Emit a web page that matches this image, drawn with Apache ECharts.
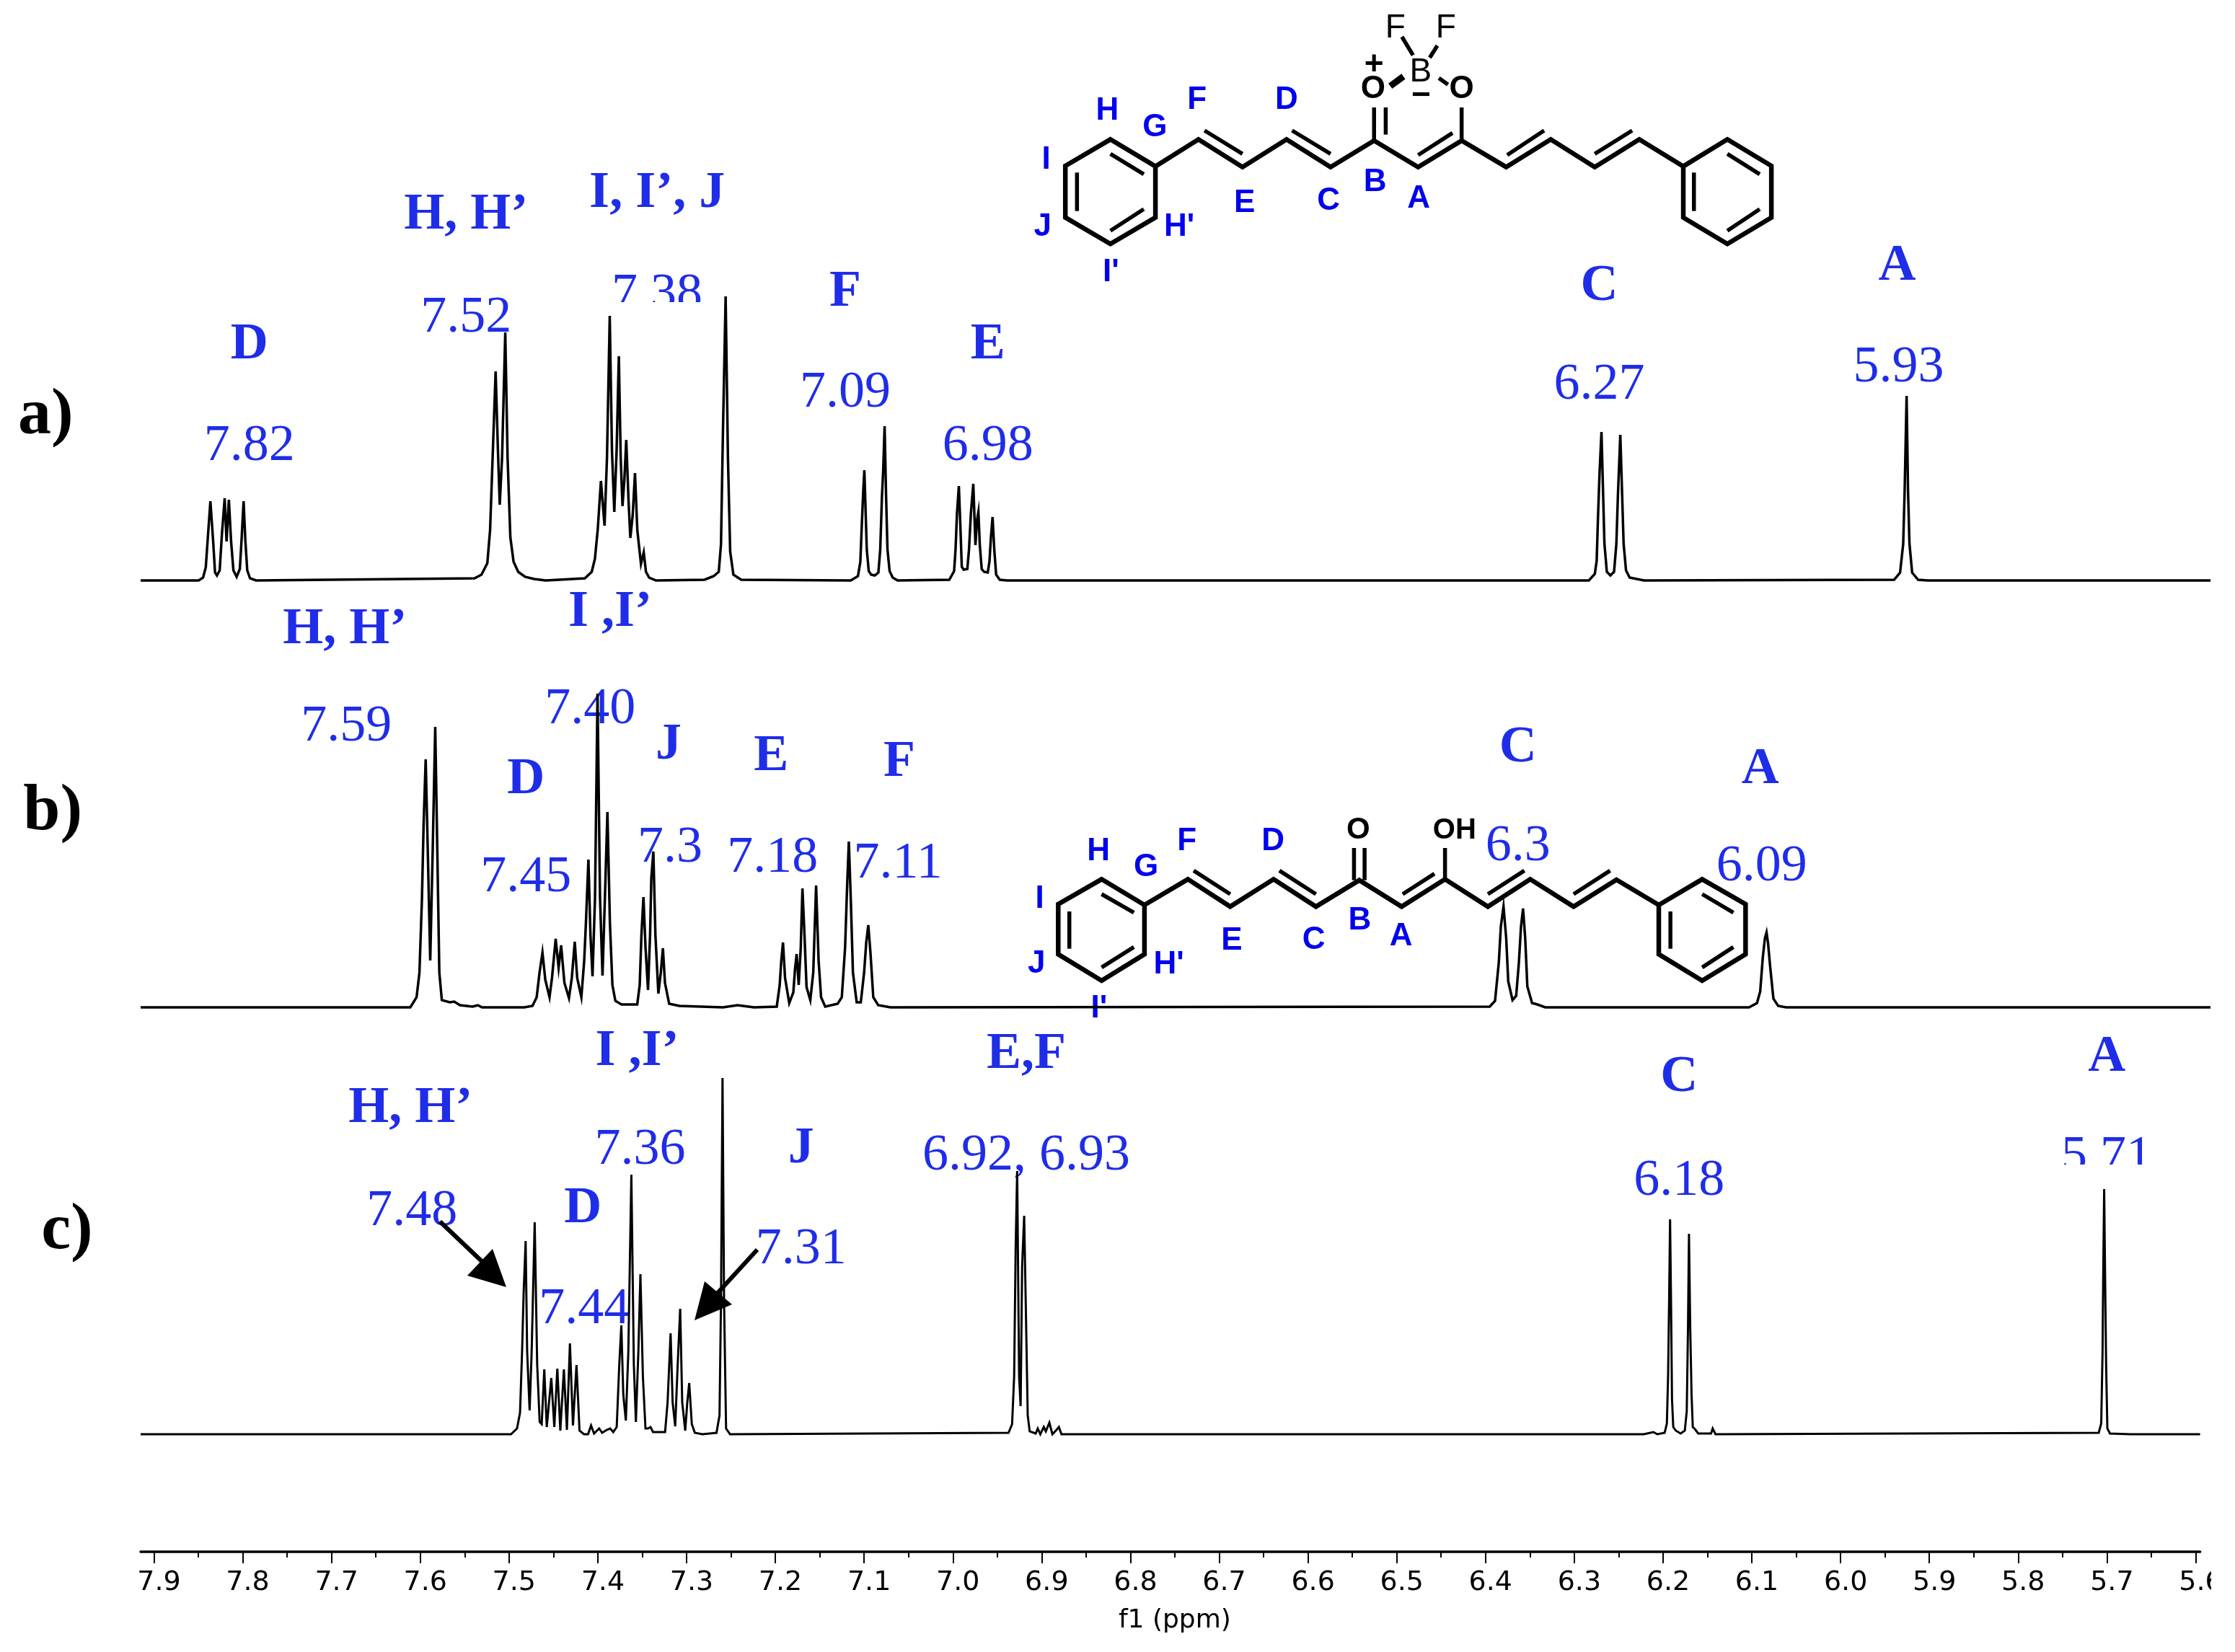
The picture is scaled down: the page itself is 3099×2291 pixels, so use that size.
<!DOCTYPE html>
<html><head><meta charset="utf-8">
<style>html,body{margin:0;padding:0;background:#fff}#c{width:3099px;height:2291px}</style>
<script src="https://cdn.jsdelivr.net/npm/echarts@6/dist/echarts.min.js"></script>
</head><body><div id="c"></div>
<script>
// ---- data: [ppm, intensity above baseline] ----
const spectrumA = [[7.915,0],[7.85,0],[7.845,4],[7.842,18],[7.84,54],[7.8368,110],[7.8337,54],[7.8316,11],[7.8295,7],[7.8264,14],[7.8239,64],[7.8208,114],[7.8187,54],[7.8161,112],[7.8136,54],[7.811,14],[7.8074,5],[7.8038,16],[7.8017,60],[7.7996,110],[7.7976,55],[7.7955,14],[7.7924,3],[7.7857,0],
[7.5408,3],[7.533,8],[7.5264,24],[7.5233,70],[7.5202,180],[7.5171,290],[7.5145,180],[7.5125,105],[7.5099,170],[7.5063,344],[7.5037,170],[7.5006,60],[7.497,26],[7.4918,12],[7.4841,5],[7.4738,2],[7.4609,0],
[7.4171,3],[7.4094,12],[7.4058,30],[7.4027,70],[7.3991,138],[7.395,76],[7.3923,170],[7.3892,367],[7.3867,180],[7.3841,95],[7.3815,180],[7.379,311],[7.3769,170],[7.3749,103],[7.3728,140],[7.3707,195],[7.3681,110],[7.3661,59],[7.3635,90],[7.3609,149],[7.3583,70],[7.3542,23],[7.3511,39],[7.3486,12],[7.345,4],[7.3372,0],
[7.283,1],[7.2727,6],[7.267,12],[7.2645,50],[7.2624,200],[7.2593,394],[7.2567,170],[7.2542,40],[7.2506,8],[7.2418,1],
[7.1191,0],[7.111,6],[7.1083,26],[7.1067,76],[7.105,126],[7.1038,153],[7.1024,96],[7.1011,43],[7.0989,13],[7.0962,8],[7.0922,7],[7.0881,11],[7.086,43],[7.0841,116],[7.0827,153],[7.0811,214],[7.0795,119],[7.0779,43],[7.0755,13],[7.072,4],[7.0666,0],
[7.0086,1],[7.0032,13],[7.0016,43],[7.0,93],[6.9979,131],[6.9962,76],[6.9946,19],[6.9925,15],[6.9884,16],[6.9865,43],[6.9844,93],[6.9817,134],[6.9793,49],[6.9776,83],[6.976,95],[6.9744,49],[6.9723,16],[6.9696,12],[6.9655,11],[6.9636,26],[6.962,59],[6.9601,88],[6.9582,43],[6.9561,8],[6.952,1],[6.944,0],
[6.2918,0],[6.2851,9],[6.283,27],[6.2816,84],[6.2797,151],[6.2776,206],[6.2757,117],[6.2743,51],[6.2716,12],[6.2676,7],[6.2635,12],[6.2609,51],[6.2592,117],[6.2565,202],[6.2544,117],[6.2528,51],[6.2501,14],[6.246,4],[6.2299,0],
[5.9496,1],[5.9429,11],[5.9394,51],[5.9378,124],[5.9356,256],[5.934,124],[5.9324,51],[5.9294,11],[5.9227,1],[5.9119,0],[5.595,0]];

const spectrumB = [[7.915,0],[7.6544,0],[7.6127,0],[7.6057,14],[7.6025,48],[7.5997,150],[7.5978,255],[7.5955,344],[7.5932,220],[7.5904,65],[7.5876,220],[7.5848,389],[7.5825,220],[7.5802,48],[7.5774,10],[7.5686,7],[7.5635,8],[7.557,3],[7.543,1],[7.537,3],[7.5324,0],
[7.485,0],[7.4758,2],[7.4711,14],[7.4679,48],[7.4646,76],[7.4614,38],[7.4567,14],[7.4539,41],[7.4498,95],[7.4465,55],[7.4437,86],[7.44,34],[7.4349,13],[7.4317,41],[7.4284,91],[7.4257,41],[7.421,14],[7.4178,65],[7.4159,117],[7.4131,205],[7.4108,100],[7.4085,43],[7.4057,152],[7.4029,435],[7.4001,152],[7.3973,44],[7.3946,152],[7.3918,271],[7.389,117],[7.3862,31],[7.3829,9],[7.376,4],[7.3584,4],[7.3556,31],[7.3537,100],[7.3514,153],[7.3491,83],[7.3463,24],[7.344,100],[7.3426,179],[7.3403,216],[7.338,100],[7.3347,19],[7.332,48],[7.3296,82],[7.3273,34],[7.3226,5],[7.311,2],[7.2623,0],[7.246,3],[7.2275,0],
[7.202,1],[7.1987,31],[7.1969,65],[7.195,90],[7.1927,41],[7.188,6],[7.1834,21],[7.1816,52],[7.1797,74],[7.1774,31],[7.1751,83],[7.1732,165],[7.1709,100],[7.1686,28],[7.1644,10],[7.1611,48],[7.1579,169],[7.1551,65],[7.1523,14],[7.1477,1],[7.1337,5],[7.1291,14],[7.1254,83],[7.1231,169],[7.1212,230],[7.1189,145],[7.1166,48],[7.1124,7],[7.1078,7],[7.1041,48],[7.1017,90],[7.0994,114],[7.097,76],[7.0938,14],[7.0883,3],[7.0744,0],
[6.4028,1],[6.3969,9],[6.3927,62],[6.3904,112],[6.3874,140],[6.3844,96],[6.3821,36],[6.3773,10],[6.3732,16],[6.3702,62],[6.3678,112],[6.3655,137],[6.3631,96],[6.3607,29],[6.3554,6],[6.3494,4],[6.3406,0],
[6.1122,0],[6.1033,6],[6.0997,22],[6.0968,69],[6.0944,96],[6.0926,104],[6.0909,89],[6.0885,56],[6.0849,12],[6.0796,2],[6.0707,0],[5.595,0]];

const spectrumC = [[7.915,0],[7.4978,0],[7.491,8],[7.4876,30],[7.4853,115],[7.4836,194],[7.4813,268],[7.4796,115],[7.4768,33],[7.4745,115],[7.4711,294],[7.4683,97],[7.4655,17],[7.4632,14],[7.4603,90],[7.4575,10],[7.4524,78],[7.449,10],[7.4456,91],[7.4422,5],[7.4382,90],[7.4348,6],[7.4314,126],[7.428,12],[7.424,96],[7.4206,5],[7.4155,0],[7.411,0],[7.4076,12],[7.4042,1],[7.3985,8],[7.3951,2],[7.39,6],[7.386,8],[7.3826,3],[7.3787,10],[7.3758,97],[7.3735,151],[7.3713,55],[7.3684,19],[7.3656,115],[7.3622,360],[7.3594,97],[7.3571,17],[7.3543,115],[7.352,222],[7.3492,80],[7.3463,8],[7.3435,8],[7.3406,10],[7.3378,3],[7.3242,3],[7.3214,44],[7.318,140],[7.3157,44],[7.3128,11],[7.31,97],[7.3072,174],[7.3049,44],[7.3015,5],[7.2992,44],[7.297,71],[7.2941,14],[7.2907,2],[7.2822,0],[7.2663,2],[7.2629,26],[7.2612,187],[7.2595,494],[7.2578,187],[7.2555,8],[7.251,0],
[6.9373,2],[6.9333,14],[6.931,80],[6.9293,258],[6.9276,365],[6.9254,80],[6.9237,39],[6.922,233],[6.9197,303],[6.918,187],[6.9157,26],[6.9135,4],[6.9067,1],[6.9044,8],[6.9015,0],[6.8976,10],[6.8953,4],[6.8913,16],[6.8879,0],[6.884,5],[6.8806,10],[6.8777,0],
[6.2217,0],[6.2109,3],[6.2065,0],[6.1982,2],[6.1957,15],[6.1943,82],[6.1932,182],[6.1921,298],[6.191,182],[6.1899,48],[6.1885,10],[6.1856,5],[6.1802,1],[6.1755,5],[6.1733,32],[6.1719,148],[6.1708,278],[6.1694,148],[6.1679,55],[6.1665,10],[6.164,7],[6.1604,1],[6.1459,1],[6.1441,8],[6.1427,9],[6.1409,0],
[5.7092,2],[5.7064,15],[5.7049,115],[5.7042,215],[5.7031,340],[5.702,215],[5.7009,98],[5.6995,8],[5.6966,1],[5.6732,0],[5.595,0]];

const majorTicks = [7.9,7.8,7.7,7.6,7.5,7.4,7.3,7.2,7.1,7.0,6.9,6.8,6.7,6.6,6.5,6.4,6.3,6.2,6.1,6.0,5.9,5.8,5.7,5.6];
const minorTicks = [7.85,7.75,7.65,7.55,7.45,7.35,7.25,7.15,7.05,6.95,6.85,6.75,6.65,6.55,6.45,6.35,6.25,6.15,6.05,5.95,5.85,5.75,5.65];
const panelNames = ['a)','b)','c)'];
const assignLetters = ['D','H, H’','I, I’, J','F','E','C','A','H, H’','I ,I’','D','J','E','F','C','A','H, H’','I ,I’','D','J','E,F','C','A'];
const shiftLabels = ['7.82','7.52','7.38','7.09','6.98','6.27','5.93','7.59','7.40','7.45','7.3','7.18','7.11','6.3','6.09','7.48','7.36','7.44','7.31','6.92, 6.93','6.18','5.71'];
// ---- layout (overview-pixel anchors) ----
const K = 3099/1568;
const letterPos = [[175,242],[327,151],[461,136],[593,205],[693,242],[1122,201],[1331,187],[242,442],[428,430],[369,547],[469,523],[541,531],[631,535],[1065,525],[1235,540],[288,778],[447,738],[409,848],[562,806],[720,740],[1178,756],[1478,742]];
const shiftPos = [[175,313],[327,223],[461,207],[593,276],[693,313],[1122,270],[1332,258],[243,510],[414,498],[369,616],[470,595],[542,602],[630,606],[1065,594],[1236,608],[289,850],[449,807],[410,919],[562,877],[720,811],[1178,829],[1478,812]];
const panelPos = [[32,292],[37,570],[47,864]];

const G = [];
const BLUE='#1f2de8';
function txt(t,x,y,font,fill,z){G.push({type:'text',z:z||1,silent:true,style:{text:t,x:x,y:y,font:font,fill:fill,textAlign:'center',textVerticalAlign:'middle'}});}
letterPos.forEach((p,i)=>txt(assignLetters[i],p[0]*K,p[1]*K,'bold 72px "Liberation Serif"',BLUE));
shiftPos.forEach((p,i)=>txt(shiftLabels[i],p[0]*K,p[1]*K,'72px "Liberation Serif"',BLUE));
panelPos.forEach((p,i)=>txt(panelNames[i],p[0]*K,p[1]*K,'bold 92px "Liberation Serif"','#000'));
// clipped annotation bottoms in the source
function patch(x,y,w,h,z){G.push({type:'rect',z:z||1,silent:true,shape:{x,y,width:w,height:h},style:{fill:'#fff'}});}
patch(840,419,150,16);
patch(2850,1615,150,28);
// arrows
function poly(pts,z){G.push({type:'polygon',z:z||3,silent:true,shape:{points:pts},style:{fill:'#000'}});}
function seg(a,b,w,z,c){G.push({type:'line',z:z||1,silent:true,shape:{x1:a[0],y1:a[1],x2:b[0],y2:b[1]},style:{stroke:c||'#000',lineWidth:w,lineCap:'butt'}});}
seg([610,1694],[690,1770],6,3); poly([[702,1785],[683,1732],[648,1769]]);
seg([1050,1733],[975,1815],6,3); poly([[963,1831],[977,1777],[1015,1809]]);
// structures
const BOND=6.5;
function structure(ox,oy,fx,fy,rings,chain,inner,texts,blue){
  const P=p=>[ox+p[0]/fx,oy+p[1]/fy];
  rings.forEach(r=>G.push({type:'polygon',z:1,silent:true,shape:{points:r.map(P)},style:{fill:'none',stroke:'#000',lineWidth:BOND,lineJoin:'miter'}}));
  G.push({type:'polyline',z:1,silent:true,shape:{points:chain.map(P)},style:{fill:'none',stroke:'#000',lineWidth:BOND,lineJoin:'miter'}});
  inner.forEach(l=>{seg(P(l[0]),P(l[1]),l[2]||BOND-1);});
  texts.forEach(t=>{const q=P([t[1],t[2]]);txt(t[0],q[0],q[1],t[3]||'46px "Liberation Sans"','#000');});
  blue.forEach(t=>{const q=P([t[1],t[2]]);txt(t[0],q[0],q[1],'bold 44px "Liberation Sans"','#0000ee');});
}
structure(1400,0,1.425,3,
 [[[199,580],[288,692],[288,905],[199,1015],[110,905],[110,690]],[[1418,580],[1505,690],[1505,905],[1418,1015],[1331,905],[1331,692]]],
 [[288,692],[373,580],[460,695],[547,580],[634,695],[720,585],[807,695],[893,585],[981,695],[1069,580],[1156,695],[1244,580],[1331,692]],
 [[[199,640],[265,725]],[[133,718],[133,878]],[[199,960],[265,870]],[[385,543],[460,640]],[[558,543],[634,640]],[[807,645],[875,553]],[[983,645],[1056,543]],[[1156,640],[1230,543]],[[720,585],[720,447]],[[743,560],[743,447]],[[893,585],[893,447]],[[1352,718],[1352,878]],[[1418,640],[1482,725]],[[1418,960],[1482,870]],[[775,153],[797,230]],[[845,190],[830,240]],[[752,358],[778,318],9],[[848,325],[866,352]]],
 [['F',762,118],['F',862,118],['B',812,300],['O',718,373,'bold 44px "Liberation Sans"'],['O',893,373,'bold 44px "Liberation Sans"'],['+',720,272,'bold 46px "Liberation Sans"'],['−',813,400,'bold 46px "Liberation Sans"']],
 [['H',193,462],['G',287,530],['F',370,418],['D',547,418],['I',72,665],['E',464,845],['C',630,838],['B',722,758],['A',808,827],['J',65,945],['H\'',335,945],['I\'',200,1135]]);
structure(1380,1100,1.363,3,
 [[[201,358],[282,465],[282,670],[201,780],[119,670],[119,462]],[[1336,358],[1418,462],[1418,670],[1336,780],[1254,670],[1254,465]]],
 [[282,465],[364,358],[444,472],[526,358],[606,472],[688,362],[768,472],[850,358],[931,472],[1011,358],[1093,472],[1174,360],[1254,465]],
 [[[201,420],[262,497]],[[140,492],[140,647]],[[201,725],[262,640]],[[375,322],[444,420]],[[537,322],[606,420]],[[770,420],[830,335]],[[931,420],[1000,322]],[[1093,420],[1162,322]],[[678,362],[678,228]],[[698,362],[698,228]],[[850,358],[850,228]],[[1276,492],[1276,647]],[[1336,420],[1395,497]],[[1336,725],[1395,640]]],
 [['O',686,155,'bold 42px "Liberation Sans"'],['OH',868,155,'bold 40px "Liberation Sans"']],
 [['H',195,243],['G',285,308],['F',362,200],['D',525,200],['I',84,440],['E',447,615],['C',602,612],['B',689,532],['A',767,597],['J',78,712],['H\'',328,715],['I\'',196,897]]);
// right-hand cut of the picture
patch(3066,2100,40,191,50);

const X_LOW=5.595, X_HIGH=7.915;
function grid(top,h){return {left:195,width:2870,top:top,height:h,containLabel:false,show:false};}
const hiddenX = i=>({type:'value',gridIndex:i,min:X_LOW,max:X_HIGH,inverse:true,show:false});
const hiddenY = (i,a,b)=>({type:'value',gridIndex:i,min:a,max:b,show:false});
const line = (data,i,w)=>({type:'line',xAxisIndex:i,yAxisIndex:i,data:data,showSymbol:false,symbol:'none',smooth:false,sampling:null,clip:false,silent:true,z:2,animation:false,lineStyle:{color:'#000',width:w,join:'miter'}});
const option={
 animation:false,backgroundColor:'#fff',
 grid:[grid(385,420),grid(917,480),grid(1489,663)],
 xAxis:[hiddenX(0),hiddenX(1),
  {type:'value',gridIndex:2,min:X_LOW,max:X_HIGH,inverse:true,position:'bottom',
   name:'f1 (ppm)',nameLocation:'middle',nameGap:78,nameTextStyle:{fontSize:36,fontFamily:'DejaVu Sans',color:'#000',padding:[0,0,0,12]},
   splitLine:{show:false},
   axisLine:{show:true,onZero:false,lineStyle:{color:'#000',width:3.5}},
   axisTick:{show:true,length:16,customValues:majorTicks,lineStyle:{color:'#000',width:2}},
   axisLabel:{show:true,margin:24,customValues:majorTicks,hideOverlap:false,fontSize:38,fontFamily:'DejaVu Sans',color:'#000',padding:[0,0,0,14],formatter:v=>Number(v).toFixed(1)}},
  {type:'value',gridIndex:2,min:X_LOW,max:X_HIGH,inverse:true,position:'bottom',
   splitLine:{show:false},axisLine:{show:false,onZero:false},axisLabel:{show:false},
   axisTick:{show:true,length:8,customValues:minorTicks,lineStyle:{color:'#000',width:2}}}
 ],
 yAxis:[hiddenY(0,0,420),hiddenY(1,0,480),hiddenY(2,-163,500)],
 series:[line(spectrumA,0,3.5),line(spectrumB,1,3.5),line(spectrumC,2,3)],
 graphic:{elements:G}
};
const chart=echarts.init(document.getElementById('c'),null,{renderer:'canvas',width:3099,height:2291});
chart.setOption(option);
</script></body></html>
